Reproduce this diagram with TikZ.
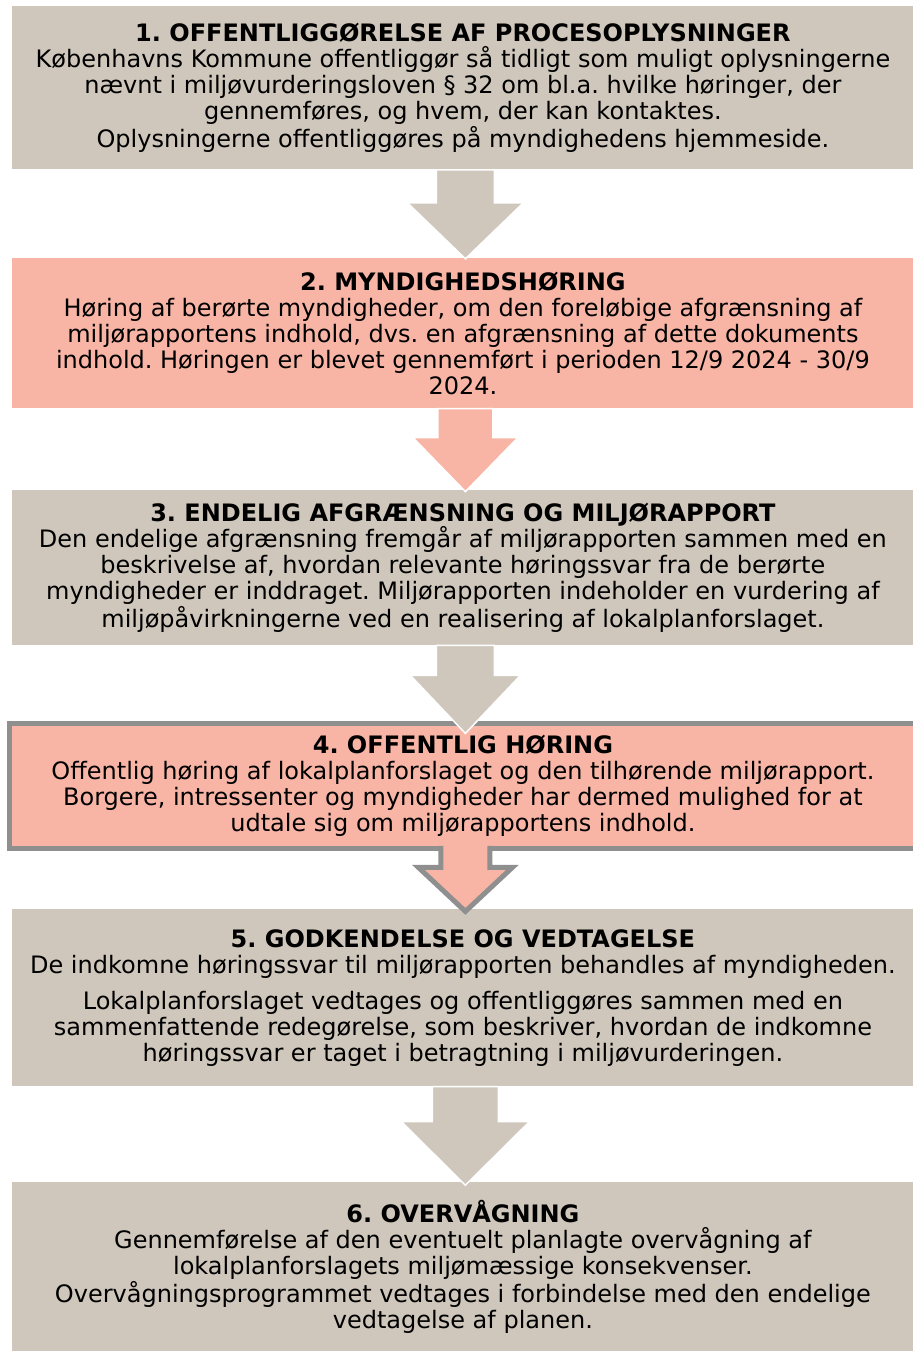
\documentclass[tikz,border=0pt]{standalone}
\usepackage{fontspec}
\setmainfont{DejaVu Sans}
\usetikzlibrary{positioning,calc}
\frenchspacing

\definecolor{stepgrey}{HTML}{CFC7BC}
\definecolor{steprose}{HTML}{F8B5A5}
\definecolor{stepline}{HTML}{8F8F8F}

\begin{document}
\begin{tikzpicture}[font=\fontsize{12pt}{13pt}\selectfont,
    greybox/.style={fill=stepgrey,minimum width=450.5pt,align=center,inner sep=0pt},
    rosebox/.style={fill=steprose,minimum width=450.5pt,align=center,inner sep=0pt},
    blockarrow/.style={draw=white,line width=0.75pt}]
   \useasboundingbox (0,0) rectangle (456.5pt,-675.5pt);
   \node[greybox,minimum height=81.5pt,anchor=north west] (b1) at (6pt,-3pt)
     {\textbf{1. OFFENTLIGGØRELSE AF PROCESOPLYSNINGER}\\
      Københavns Kommune offentliggør så tidligt som muligt oplysningerne\\
      nævnt i miljøvurderingsloven § 32 om bl.a. hvilke høringer, der\\
      gennemføres, og hvem, der kan kontaktes.\\
      Oplysningerne offentliggøres på myndighedens hjemmeside.};
   \node[rosebox,minimum height=75pt,below=44pt of b1] (b2)
     {\textbf{2. MYNDIGHEDSHØRING}\\
      Høring af berørte myndigheder, om den foreløbige afgrænsning af\\
      miljørapportens indhold, dvs. en afgrænsning af dette dokuments\\
      indhold. Høringen er blevet gennemført i perioden 12/9 2024 - 30/9\\
      2024.};
   \node[greybox,minimum height=77.5pt,below=40.5pt of b2] (b3)
     {\textbf{3. ENDELIG AFGRÆNSNING OG MILJØRAPPORT}\\
      Den endelige afgrænsning fremgår af miljørapporten sammen med en\\
      beskrivelse af, hvordan relevante høringssvar fra de berørte\\
      myndigheder er inddraget. Miljørapporten indeholder en vurdering af\\
      miljøpåvirkningerne ved en realisering af lokalplanforslaget.};
   \node[rosebox,draw=stepline,line width=2.5pt,minimum width=453.25pt,
         minimum height=62.25pt,below=38pt of b3] (b4)
     {\textbf{4. OFFENTLIG HØRING}\\
      Offentlig høring af lokalplanforslaget og den tilhørende miljørapport.\\
      Borgere, intressenter og myndigheder har dermed mulighed for at\\
      udtale sig om miljørapportens indhold.};
   \node[greybox,minimum height=88.5pt,below=29pt of b4] (b5)
     {\textbf{5. GODKENDELSE OG VEDTAGELSE}\\
      De indkomne høringssvar til miljørapporten behandles af myndigheden.\\[5pt]
      Lokalplanforslaget vedtages og offentliggøres sammen med en\\
      sammenfattende redegørelse, som beskriver, hvordan de indkomne\\
      høringssvar er taget i betragtning i miljøvurderingen.};
   \node[greybox,minimum height=85pt,below=47.5pt of b5] (b6)
     {\textbf{6. OVERVÅGNING}\\
      Gennemførelse af den eventuelt planlagte overvågning af\\
      lokalplanforslagets miljømæssige konsekvenser.\\
      Overvågningsprogrammet vedtages i forbindelse med den endelige\\
      vedtagelse af planen.};
   % block arrows: from/to/shaft/head/head start/overlap/colour
   \foreach \from/\to/\sh/\hh/\hs/\ov/\col in
       {b1/b2/14.5/29/16.5/0.5/stepgrey, b2/b3/13.75/26.25/14.5/1/steprose,
        b3/b4/14.5/27.5/15/6/stepgrey, b5/b6/16.5/32/17.5/1.75/stepgrey}
     \draw[blockarrow,fill=\col] let \p1=(\from.south), \p2=(\to.north) in
       (\x1+1.25pt-\sh*1pt,\y1) -- (\x1+1.25pt-\sh*1pt,\y1-\hs*1pt)
       -- (\x1+1.25pt-\hh*1pt,\y1-\hs*1pt) -- (\x1+1.25pt,\y2-\ov*1pt)
       -- (\x1+1.25pt+\hh*1pt,\y1-\hs*1pt) -- (\x1+1.25pt+\sh*1pt,\y1-\hs*1pt)
       -- (\x1+1.25pt+\sh*1pt,\y1) -- cycle;
   % arrow out of the framed box
   \fill[steprose] let \p1=(b4.south), \p2=(b5.north) in
     (\x1-11pt,\y1+4pt) -- (\x1-11pt,\y1-8.25pt) -- (\x1-22.25pt,\y1-8.25pt)
     -- (\x1+1.25pt,\y2-1.25pt) -- (\x1+24.75pt,\y1-8.25pt)
     -- (\x1+13.5pt,\y1-8.25pt) -- (\x1+13.5pt,\y1+4pt) -- cycle;
   \draw[stepline,line width=2.5pt] let \p1=(b4.south), \p2=(b5.north) in
     (\x1-11pt,\y1+2.5pt) -- (\x1-11pt,\y1-8.25pt) -- (\x1-22.25pt,\y1-8.25pt)
     -- (\x1+1.25pt,\y2-1.25pt) -- (\x1+24.75pt,\y1-8.25pt)
     -- (\x1+13.5pt,\y1-8.25pt) -- (\x1+13.5pt,\y1+2.5pt);
\end{tikzpicture}
\end{document}
